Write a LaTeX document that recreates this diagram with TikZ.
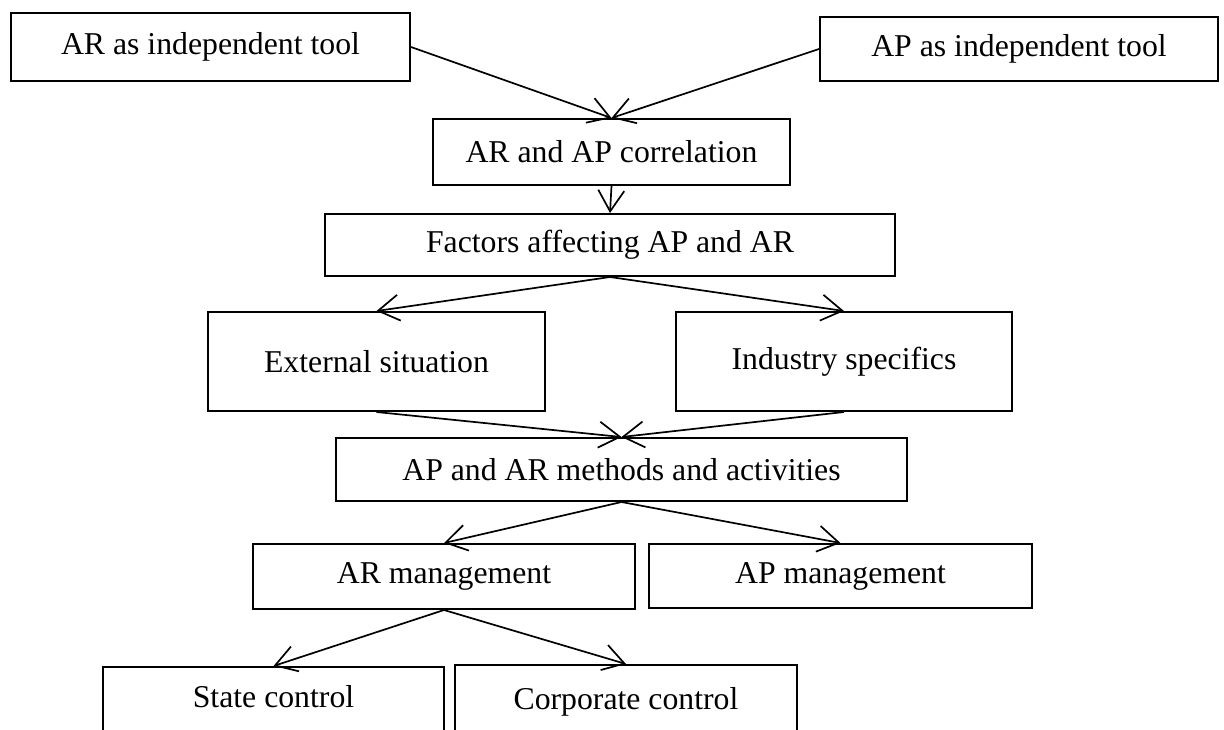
\documentclass[tikz,border=0pt]{standalone}
\usepackage{fontspec}
\setmainfont{Liberation Serif}
\usetikzlibrary{arrows.meta}
\begin{document}
\begin{tikzpicture}[x=1pt,y=-1pt,
  box/.style={draw, line width=2pt, inner sep=0pt, fill=white,
    font=\fontsize{31.75}{38}\selectfont},
  lbl/.style={inner sep=0pt, font=\fontsize{31.75}{38}\selectfont},
  conn/.style={line width=1.7pt, -{Straight Barb[length=21pt,width=26pt,line width=1.7pt]}}]
\useasboundingbox (0,0) rectangle (1224,729);
\fill[white] (0,0) rectangle (1224,729);
\begin{scope}
\clip (0,0) rectangle (1224,729);
\node[box, minimum width=399pt, minimum height=68pt] (arind) at (210.5,47) {AR as independent tool};
\node[box, minimum width=398pt, minimum height=64pt] (apind) at (1019,49) {AP as independent tool};
\node[box, minimum width=357pt, minimum height=66pt] (corr) at (611.5,152) {AR and AP correlation};
\node[box, minimum width=570pt, minimum height=62pt] (fact) at (610,245) {Factors affecting AP and AR};
\node[box, minimum width=337pt, minimum height=99pt] (ext) at (376.5,361.5) {External situation};
\node[box, minimum width=336pt, minimum height=99pt] (ind) at (844,361.5) {Industry specifics};
\node[box, minimum width=571pt, minimum height=63pt] (meth) at (621.5,469.5) {AP and AR methods and activities};
\node[box, minimum width=382pt, minimum height=65pt] (armg) at (444,576.5) {AR management};
\node[box, minimum width=383pt, minimum height=64pt] (apmg) at (840.5,576) {AP management};
\node[box, anchor=north, minimum width=341pt, minimum height=120pt] (state) at (273.5,666) {};
\node[box, anchor=north, minimum width=342pt, minimum height=120pt] (corp) at (626,664) {};
\node[lbl, anchor=base] (statetxt) at (273.5,707) {State control};
\node[lbl, anchor=base] (corptxt) at (626,709) {Corporate control};

\draw[conn] (arind.east) -- (corr.north);
\draw[conn] (apind.west) -- (corr.north);
\draw[conn] (corr.south) -- (fact.north);
\draw[conn] (fact.south) -- (ext.north);
\draw[conn] (fact.south) -- (ind.north);
\draw[conn] (ext.south) -- (meth.north);
\draw[conn] (ind.south) -- (meth.north);
\draw[conn] (meth.south) -- (armg.north);
\draw[conn] (meth.south) -- (apmg.north);
\draw[conn] (armg.south) -- (state.north);
\draw[conn] (armg.south) -- (corp.north);
\end{scope}
\end{tikzpicture}
\end{document}
